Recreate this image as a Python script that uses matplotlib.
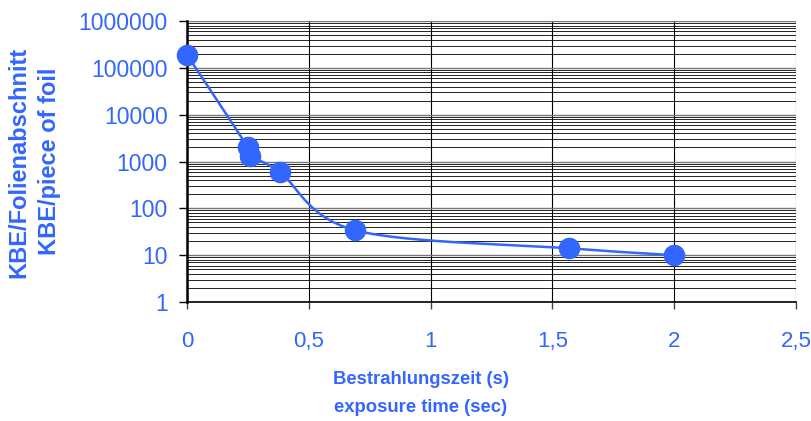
import numpy as np
import matplotlib.pyplot as plt
from matplotlib.ticker import FixedLocator, LogLocator, NullFormatter

plt.rcParams['font.family'] = ['Liberation Sans', 'DejaVu Sans']

#data
time_s = [0.0, 0.25, 0.26, 0.38, 0.69, 1.57, 2.0]
kbe = [190000, 2000, 1300, 600, 34, 14, 10]

x_ticks = [0, 0.5, 1, 1.5, 2, 2.5]
x_tick_labels = ["0", "0,5", "1", "1,5", "2", "2,5"]
y_ticks = [1, 10, 100, 1000, 10000, 100000, 1000000]
y_tick_labels = ["1", "10", "100", "1000", "10000", "100000", "1000000"]

BLUE = "#3366ff"

#smoothed line like a spreadsheet chart: catmull-rom in screen-like units
def smooth(xs, ys, sx=243.5, sy=46.8, n=30):
    P = np.column_stack([np.array(xs) * sx, np.log10(ys) * sy])
    P = np.vstack([P[0], P, P[-1]])
    out = []
    for i in range(1, len(P) - 2):
        p0, p1, p2, p3 = P[i - 1], P[i], P[i + 1], P[i + 2]
        t = np.linspace(0, 1, n)[:, None]
        c = 0.5 * ((2 * p1) + (-p0 + p2) * t + (2 * p0 - 5 * p1 + 4 * p2 - p3) * t ** 2
                   + (-p0 + 3 * p1 - 3 * p2 + p3) * t ** 3)
        out.append(c)
    c = np.vstack(out)
    return c[:, 0] / sx, 10 ** (c[:, 1] / sy)

fig = plt.figure(figsize=(8.12, 4.21), dpi=100)
ax = fig.add_axes([0.2303, 0.2827, 0.75, 0.6673])

ax.set_yscale("log")
ax.set_xlim(0, 2.5)
ax.set_ylim(1, 1000000)

ax.xaxis.set_major_locator(FixedLocator(x_ticks))
ax.set_xticklabels(x_tick_labels)
ax.yaxis.set_major_locator(FixedLocator(y_ticks))
ax.set_yticklabels(y_tick_labels)

#grid (numticks high so the minor lines are kept)
ax.yaxis.set_minor_locator(LogLocator(base=10, subs=np.arange(2, 10), numticks=100))
ax.yaxis.set_minor_formatter(NullFormatter())
ax.grid(True, which="minor", axis="y", color="black", lw=0.6)
ax.grid(True, which="major", axis="y", color="#777777", lw=1.0)
ax.grid(True, which="major", axis="x", color="black", lw=0.8)
ax.set_axisbelow(True)

sx_, sy_ = smooth(time_s, kbe)
ax.plot(sx_, sy_, color=BLUE, lw=1.8, zorder=3)
ax.plot(time_s, kbe, "o", color=BLUE, ms=14.5, zorder=4, clip_on=False)

ax.tick_params(axis="x", which="major", direction="out", length=5, width=1, pad=16,
               labelsize=16, labelcolor=BLUE, color="#444444")
ax.tick_params(axis="y", which="major", direction="out", length=6, width=1, pad=8,
               labelsize=16.5, labelcolor=BLUE)
ax.tick_params(axis="y", which="minor", length=0)

for s in ["top", "right"]:
    ax.spines[s].set_visible(False)
ax.spines["left"].set_linewidth(1.8)
ax.spines["bottom"].set_linewidth(1.2)

fig.text(421 / 812, 1 - 379 / 421, "Bestrahlungszeit (s)", color=BLUE, fontsize=13.3,
         fontweight="bold", ha="center", va="center")
fig.text(421 / 812, 1 - 407 / 421, "exposure time (sec)", color=BLUE, fontsize=13.3,
         fontweight="bold", ha="center", va="center")
fig.text(19 / 812, 1 - 162 / 421, "KBE/Folienabschnitt", color=BLUE, fontsize=17,
         fontweight="bold", ha="center", va="center", rotation=90)
fig.text(50 / 812, 1 - 161 / 421, "KBE/piece of foil", color=BLUE, fontsize=17,
         fontweight="bold", ha="center", va="center", rotation=90)

plt.savefig("out.png", dpi=100)
